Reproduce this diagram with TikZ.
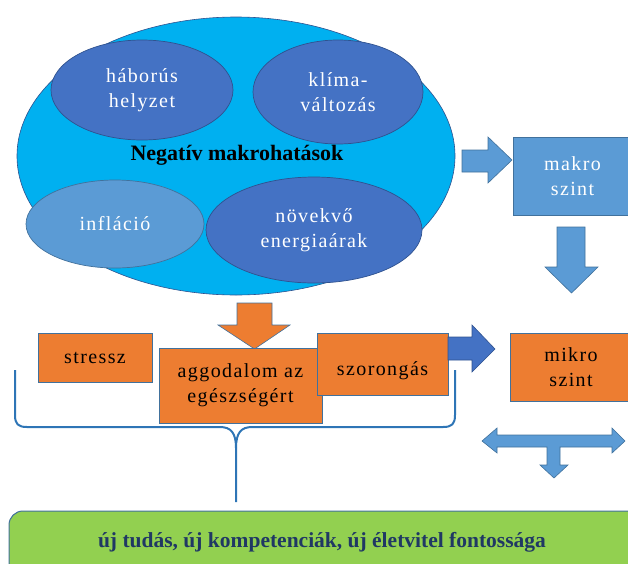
\documentclass[tikz,border=0pt]{standalone}
\usepackage{fontspec}
\setmainfont{Liberation Serif}
\newfontfamily\spacedserif{Liberation Serif}[LetterSpace=7]
\usetikzlibrary{shapes.geometric}
\definecolor{cyanfill}{HTML}{00B0F0}
\definecolor{darkblue}{HTML}{4472C4}
\definecolor{midblue}{HTML}{5B9BD5}
\definecolor{edgeblue}{HTML}{41719C}
\definecolor{deepedge}{HTML}{2F528F}
\definecolor{orangefill}{HTML}{ED7D31}
\definecolor{greenfill}{HTML}{92D050}
\definecolor{navytext}{HTML}{203864}
\definecolor{bracecol}{HTML}{2E75B6}
\tikzset{
  blob/.style={ellipse, inner sep=0pt, text=white, align=center, font=\spacedserif\fontsize{20}{25}\selectfont, draw=deepedge, line width=0.7pt},
  box/.style={rectangle, inner sep=0pt, align=center, font=\spacedserif\fontsize{20}{25}\selectfont, draw=edgeblue, line width=0.9pt},
  orangebox/.style={box, fill=orangefill},
  bigarrow/.style={fill=midblue, draw=edgeblue, line width=0.6pt},
  brace/.style={bracecol, line width=2pt}
}

\begin{document}
\begin{tikzpicture}[x=1pt, y=-1pt]
        \useasboundingbox (0,0) rectangle (628,563);
        \clip (0,0) rectangle (628,563);
        % negative macro effects
        \node [ellipse, fill=cyanfill, draw=deepedge, line width=0.6pt, inner sep=0pt, minimum width=438pt, minimum height=278pt] (macro) at (236,156) {};
        \node [blob, fill=darkblue, minimum width=182pt, minimum height=100pt] (war) at (142,90) {háborús\\helyzet};
        \node [blob, fill=darkblue, minimum width=170pt, minimum height=104pt] (climate) at (338,92) {klíma-\\változás};
        \node [blob, fill=midblue, draw=edgeblue, minimum width=178pt, minimum height=88pt] (inflation) at (115,224) {infláció};
        \node [blob, fill=darkblue, minimum width=216pt, minimum height=106pt] (energy) at (314,230) {növekvő\\energiaárak};
        \node [font=\fontsize{22}{25}\selectfont\bfseries] (negative) at (237,155) {Negatív makrohatások};
        % macro level
        \draw [bigarrow] (462,150) -- (488,150) -- (488,137) -- (512,160) -- (488,183) -- (488,172) -- (462,172) -- cycle;
        \node [box, fill=midblue, text=white, minimum width=119pt, minimum height=78pt] (makro) at (572.5,176) {makro\\szint};
        \draw [bigarrow] (557,227) -- (585,227) -- (585,267) -- (598,267) -- (571.5,293) -- (545,267) -- (557,267) -- cycle;
        % personal effects
        \draw [fill=orangefill, draw=edgeblue, line width=0.6pt] (237,303) -- (272,303) -- (272,325) -- (290,325) -- (254.5,349) -- (218,325) -- (237,325) -- cycle;
        \node [orangebox, minimum width=114pt, minimum height=49pt] (stress) at (95,357.5) {stressz};
        \node [orangebox, minimum width=163pt, minimum height=75pt] (worry) at (240.5,385.5) {aggodalom az\\egészségért};
        \node [orangebox, minimum width=131pt, minimum height=62pt, text height=22pt, text depth=0pt] (anxiety) at (382.5,364) {szorongás};
        \draw [fill=darkblue, draw=deepedge, line width=0.6pt] (448,337) -- (472,337) -- (472,325) -- (495,349) -- (472,372) -- (472,360) -- (448,360) -- cycle;
        \node [orangebox, minimum width=122pt, minimum height=68pt] (mikro) at (571,367) {mikro\\szint};
        \draw [bigarrow] (482,441) -- (497,428) -- (497,435) -- (612,435) -- (612,428) -- (625,441) -- (612,453) -- (612,447) -- (560,447) -- (560,465) -- (568,465) -- (554,478) -- (540,465) -- (547,465) -- (547,447) -- (497,447) -- (497,453) -- cycle;
        % brace
        \coordinate (braceL) at (15,370);
        \coordinate (braceR) at (455,370);
        \coordinate (bracetip) at (236,502);
        \draw [brace] (braceL) -- (15,415) .. controls (15,424) and (18,427) .. (27,427) -- (220,427) .. controls (231,427) and (236,433) .. (236,448) -- (bracetip);
        \draw [brace] (braceR) -- (455,415) .. controls (455,424) and (452,427) .. (443,427) -- (252,427) .. controls (241,427) and (236,433) .. (236,448);
        % lesson
        \draw [fill=greenfill, draw=edgeblue, line width=1pt, rounded corners=14pt] (9,511) rectangle (660,600);
        \node [font=\fontsize{21.5}{24}\selectfont\bfseries, text=navytext] (lesson) at (322,542) {új tudás, új kompetenciák, új életvitel fontossága};
\end{tikzpicture}
\end{document}
